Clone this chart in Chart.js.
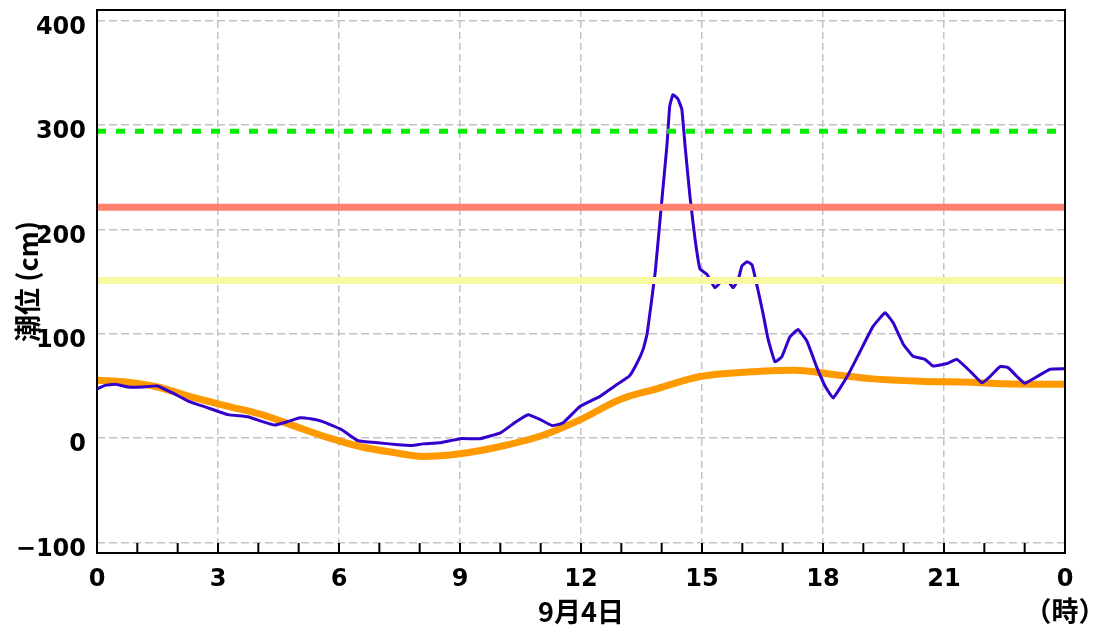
<!DOCTYPE html>
<html lang="ja">
<head>
<meta charset="UTF-8">
<title>潮位</title>
<script src="https://cdn.jsdelivr.net/npm/chart.js"></script>
<style>
  html, body { margin: 0; padding: 0; background: #fff; }
  #wrap { width: 1097px; height: 631px; }
</style>
</head>
<body>
<div id="wrap"><canvas id="tideChart" width="1097" height="631"></canvas></div>
<script>
// 実測潮位 (cm)
const obsHours = [0, 0.2, 0.45, 0.77, 1.1, 1.5, 1.86, 2.26, 2.75, 3.25, 3.74, 4.09, 4.41, 4.74, 5.03, 5.3, 5.58,
  6.07, 6.47, 6.97, 7.4, 7.81, 8.08, 8.5, 9.0, 9.5, 10.0, 10.4, 10.69, 10.98, 11.28, 11.55, 11.98, 12.47, 12.9,
  13.2, 13.39, 13.54, 13.64, 13.84, 14.0, 14.13, 14.2, 14.28, 14.4, 14.5, 14.58, 14.7, 14.83, 14.95, 15.12,
  15.32, 15.45, 15.62, 15.77, 15.9, 15.99, 16.12, 16.24, 16.37, 16.51, 16.64, 16.81, 16.98, 17.18, 17.38,
  17.6, 17.85, 18.05, 18.25, 18.6, 18.92, 19.24, 19.54, 19.74, 19.99, 20.23, 20.53, 20.73, 21.08, 21.32,
  21.65, 21.94, 22.14, 22.39, 22.59, 22.81, 23.0, 23.31, 23.63, 24];
const obsLevels = [47, 50.5, 51.5, 49, 49, 50, 43.5, 35.5, 29, 22.5, 20.5, 16, 12.5, 16, 19.5, 18.5, 16,
  8, -2.5, -4.5, -6, -7, -5.5, -4.5, -0.5, -0.5, 5, 16, 22.5, 18, 12, 14.5, 30.5, 40, 51.5,
  59.5, 72, 85, 100, 159, 226, 280, 318, 329, 325, 315, 280, 232, 190, 162, 157,
  144, 149, 152, 144, 152, 165, 169, 166, 145, 120, 94.5, 73, 78, 97, 104,
  93, 67.5, 50, 38.5, 59, 83, 107, 120, 110.5, 90, 78.5, 75.5, 69, 71.5, 75.5,
  64, 53, 59, 68.5, 67.5, 59, 52.5, 59, 66, 66.5];

// 天文潮位 (cm)
const astroHours = [0, 0.77, 1.5, 2.43, 3.25, 4.09, 4.9, 5.73, 6.57, 7.39, 8.06, 9, 10, 11, 12, 12.97,
  13.9, 14.95, 16.44, 17.3, 18.35, 19.17, 20.4, 21.65, 22.47, 24];
const astroLevels = [55.5, 53.5, 49, 38.5, 30.5, 22.5, 11.5, 0.5, -8.5, -14, -17.5, -15, -8, 2, 18, 37,
  47.5, 59, 64, 65, 60.5, 57, 54.5, 53.5, 52, 51.5];

// 基準線 (cm)
const levelGreen = 294;
const levelRed = 221;
const levelYellow = 151;

const yTickValues = [-100, 0, 100, 200, 300, 400];
const xTickHours = [0, 1, 2, 3, 4, 5, 6, 7, 8, 9, 10, 11, 12, 13, 14, 15, 16, 17, 18, 19, 20, 21, 22, 23, 24];
const dayLabel = '9月4日';
const hourUnit = '（時）';
const yTitle = '潮位 (cm)';

const FONT = '"DejaVu Sans", sans-serif';
const CJK = '"Noto Sans CJK JP", sans-serif';

function toPoints(xs, ys) {
  return xs.map((h, i) => ({ x: h, y: ys[i] }));
}
function flatLine(level) {
  return [{ x: 0, y: level }, { x: 24, y: level }];
}

const framePlugin = {
  id: 'frame',
  afterDraw(chart) {
    const { ctx, chartArea: a, scales: { x } } = chart;
    ctx.save();
    ctx.strokeStyle = '#000';
    ctx.lineWidth = 2;
    // 1時間ごとの目盛り (内向き)
    xTickHours.forEach(h => {
      const px = x.getPixelForValue(h);
      ctx.beginPath();
      ctx.moveTo(px, a.bottom);
      ctx.lineTo(px, a.bottom - 10);
      ctx.stroke();
    });
    ctx.strokeRect(a.left, a.top, a.right - a.left, a.bottom - a.top);
    ctx.fillStyle = '#000';
    ctx.font = 'bold 27px ' + CJK;
    ctx.textAlign = 'center';
    ctx.textBaseline = 'middle';
    ctx.fillText(hourUnit, a.right, a.bottom + 58);
    ctx.restore();
  }
};

new Chart(document.getElementById('tideChart'), {
  type: 'line',
  data: {
    datasets: [
      { data: flatLine(levelGreen), borderColor: '#00f000', borderWidth: 5, borderDash: [9, 10] },
      { data: flatLine(levelRed), borderColor: '#ff806e', borderWidth: 7 },
      { data: flatLine(levelYellow), borderColor: '#f8f8a0', borderWidth: 7 },
      { data: toPoints(obsHours, obsLevels), borderColor: '#3300cc', borderWidth: 3, tension: 0.1 },
      { data: toPoints(astroHours, astroLevels), borderColor: '#ff9900', borderWidth: 7, cubicInterpolationMode: 'monotone' }
    ]
  },
  options: {
    responsive: false,
    animation: false,
    devicePixelRatio: 1,
    layout: { padding: { top: 10, right: 32, left: 0, bottom: 0 } },
    elements: { point: { radius: 0 }, line: { borderCapStyle: 'butt' } },
    plugins: { legend: { display: false }, tooltip: { enabled: false } },
    scales: {
      x: {
        type: 'linear',
        min: 0,
        max: 24,
        afterBuildTicks: s => { s.ticks = xTickHours.map(v => ({ value: v })); },
        afterFit: s => { s.height = 78; },
        ticks: {
          autoSkip: false,
          maxRotation: 0,
          padding: 15,
          color: '#000',
          font: { family: FONT, size: 24, weight: 'bold', lineHeight: 1 },
          callback: v => (v % 3 === 0 ? String(v % 24) : '')
        },
        grid: {
          color: c => (c.tick && c.tick.value % 3 === 0 && c.tick.value > 0 && c.tick.value < 24) ? '#c4c4c4' : 'rgba(0,0,0,0)',
          lineWidth: 1.5,
          drawTicks: false
        },
        border: { display: false, dash: [7, 4] },
        title: {
          display: true,
          text: dayLabel,
          color: '#000',
          font: { family: CJK, size: 27, weight: 'bold', lineHeight: 1 },
          padding: { top: 0, bottom: 6 }
        }
      },
      y: {
        min: -110,
        max: 410,
        afterBuildTicks: s => { s.ticks = yTickValues.map(v => ({ value: v })); },
        afterFit: s => { s.width = 97; },
        ticks: {
          padding: 0,
          labelOffset: 7,
          color: '#000',
          font: { family: FONT, size: 24, weight: 'bold', lineHeight: 0.8 },
          callback: v => (v < 0 ? '\u2212' + Math.abs(v) : String(v))
        },
        grid: {
          color: '#c4c4c4',
          lineWidth: 1.5,
          drawTicks: true,
          tickLength: 11,
          tickColor: 'rgba(0,0,0,0)'
        },
        border: { display: false, dash: [8, 4] },
        title: {
          display: true,
          text: yTitle,
          color: '#000',
          font: { family: CJK, size: 27, weight: 'bold', lineHeight: 1 },
          padding: { top: 14, bottom: 0 }
        }
      }
    }
  },
  plugins: [framePlugin]
});
</script>
</body>
</html>
